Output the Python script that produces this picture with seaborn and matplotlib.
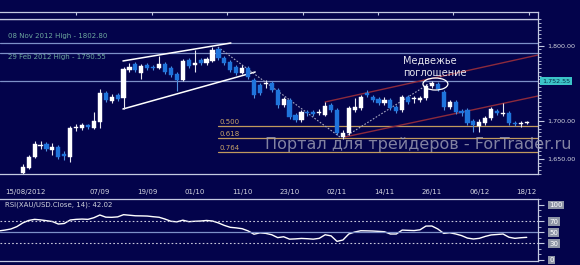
import numpy as np
import pandas as pd
import matplotlib
matplotlib.use("Agg")
import matplotlib.pyplot as plt
import seaborn as sns
from matplotlib.patches import Ellipse
from matplotlib.ticker import MultipleLocator, FixedLocator

# ---------------- data (trading-day index, 0 = 15/08/2012) ----------------
day_index = list(range(3, 89))
opens = [1631.1, 1637.7, 1652.3, 1666.9, 1669.5, 1661.6, 1665.6, 1656.3, 1652.3, 1690.7,
         1690.7, 1694.7, 1690.7, 1698.7, 1737.1, 1726.5, 1734.4, 1730.5, 1767.5, 1775.5,
         1763.6, 1774.2, 1771.5, 1770.2, 1775.5, 1770.2, 1762.3, 1754.3, 1780.8, 1774.2,
         1780.8, 1776.8, 1779.5, 1795.4, 1783.4, 1778.1, 1771.5, 1763.6, 1770.2, 1754.3,
         1747.7, 1749.0, 1750.3, 1741.1, 1721.2, 1727.8, 1707.9, 1701.3, 1711.9, 1711.9,
         1710.6, 1707.9, 1721.2, 1714.6, 1678.8, 1684.1, 1714.6, 1717.2, 1737.1, 1731.8,
         1729.1, 1723.8, 1727.8, 1718.5, 1714.6, 1731.8, 1729.1, 1727.8, 1730.5, 1746.4,
         1749.0, 1738.4, 1718.5, 1725.2, 1713.2, 1714.6, 1700.0, 1693.4, 1697.4, 1704.0,
         1713.2, 1709.3, 1710.6, 1697.4, 1696.0, 1697.4]
highs = [1643.0, 1655.0, 1673.5, 1673.5, 1672.2, 1670.9, 1668.2, 1660.3, 1693.4, 1696.0,
         1697.4, 1696.0, 1711.9, 1742.4, 1739.7, 1735.8, 1737.1, 1771.5, 1776.8, 1778.1,
         1775.5, 1776.8, 1774.2, 1786.1, 1778.1, 1772.8, 1764.9, 1782.1, 1783.4, 1794.0,
         1783.4, 1784.8, 1798.0, 1798.0, 1786.1, 1780.8, 1774.2, 1774.2, 1772.8, 1757.0,
         1750.3, 1754.3, 1753.0, 1743.7, 1731.8, 1730.5, 1710.6, 1714.6, 1714.6, 1714.6,
         1715.9, 1725.2, 1723.8, 1717.2, 1688.1, 1719.9, 1730.5, 1734.4, 1741.1, 1734.4,
         1731.8, 1731.8, 1730.5, 1721.2, 1734.4, 1734.4, 1733.1, 1733.1, 1749.0, 1753.0,
         1751.7, 1741.1, 1727.8, 1727.8, 1715.9, 1717.2, 1702.6, 1702.6, 1706.6, 1718.5,
         1715.9, 1723.8, 1713.2, 1700.0, 1700.0, 1700.0]
lows = [1628.5, 1636.4, 1651.0, 1662.9, 1660.3, 1655.0, 1649.7, 1648.3, 1645.7, 1686.8,
        1688.1, 1689.4, 1689.4, 1690.7, 1725.2, 1723.8, 1726.5, 1715.9, 1764.9, 1764.9,
        1755.6, 1767.5, 1767.5, 1768.9, 1762.3, 1758.3, 1739.7, 1753.0, 1770.2, 1764.9,
        1774.2, 1774.2, 1778.1, 1780.8, 1774.2, 1764.9, 1760.9, 1762.3, 1755.6, 1730.5,
        1734.4, 1743.7, 1738.4, 1717.2, 1718.5, 1702.6, 1698.7, 1698.7, 1706.6, 1706.6,
        1707.9, 1706.6, 1711.9, 1681.5, 1676.2, 1681.5, 1711.9, 1714.6, 1731.8, 1725.2,
        1721.2, 1721.2, 1714.6, 1710.6, 1711.9, 1722.5, 1723.8, 1725.2, 1727.8, 1743.7,
        1739.7, 1714.6, 1715.9, 1709.3, 1706.6, 1694.7, 1685.4, 1685.4, 1694.7, 1701.3,
        1707.9, 1706.6, 1694.7, 1693.4, 1692.1, 1696.0]
closes = [1639.1, 1652.3, 1669.5, 1668.2, 1662.9, 1665.6, 1652.3, 1653.6, 1690.7, 1692.1,
          1694.7, 1692.1, 1700.0, 1737.1, 1727.8, 1731.8, 1729.1, 1768.9, 1771.5, 1767.5,
          1772.8, 1770.2, 1770.2, 1775.5, 1764.9, 1760.9, 1754.3, 1779.5, 1772.8, 1776.8,
          1776.8, 1782.1, 1794.0, 1783.4, 1776.8, 1767.5, 1763.6, 1770.2, 1758.3, 1734.4,
          1737.1, 1750.3, 1741.1, 1721.2, 1729.1, 1705.3, 1701.3, 1711.9, 1710.6, 1709.3,
          1711.9, 1719.9, 1714.6, 1684.1, 1684.1, 1717.2, 1718.5, 1731.8, 1734.4, 1727.8,
          1723.8, 1727.8, 1717.2, 1713.2, 1731.8, 1725.2, 1730.5, 1730.5, 1746.4, 1750.3,
          1742.4, 1718.5, 1725.2, 1711.9, 1710.6, 1697.4, 1694.7, 1698.7, 1704.0, 1715.9,
          1710.6, 1710.6, 1697.4, 1696.0, 1697.4, 1698.7]

rsi_index = list(range(-1, 89))
rsi_values = [52, 53.5, 55.5, 59.8, 66.5, 71, 73, 72, 70.6, 69,
              64.5, 65.5, 71.8, 73, 73.5, 73, 76, 80.9, 77, 76.7,
              77.5, 81.5, 80.5, 79.5, 79.3, 79, 77.8, 76.8, 73.5, 69.5,
              68.5, 71.5, 68.8, 69.5, 70, 71, 70, 66.5, 62, 58.5,
              57.5, 56, 52, 46, 48.5, 47.5, 45, 39.8, 41.4, 37,
              37.5, 38.3, 37.8, 37, 38.5, 45, 43, 33, 35.5, 46.5,
              50, 52.3, 52.1, 51.8, 51.2, 50.5, 46.4, 46.4, 53.5, 53,
              52.6, 54, 60.8, 60.9, 55.5, 47.5, 48.7, 46.5, 43.5, 39,
              37.3, 38.5, 42, 44.7, 45.5, 46.4, 40.5, 38.5, 39.6, 40.3]

date_tick_index = [0, 8, 16, 24, 32, 40, 48, 56, 64, 72, 80, 88]
date_labels = ["15/08/2012", "", "07/09", "19/09", "01/10", "11/10", "23/10",
               "02/11", "14/11", "26/11", "06/12", "18/12"]

high_levels = [1802.80, 1790.55]
high_texts = ["08 Nov 2012 High - 1802.80", "29 Feb 2012 High - 1790.55"]
last_level = 1752.55
fib_levels = [1693.4, 1677.1, 1658.9]
fib_labels = ["0.500", "0.618", "0.764"]
price_ticks = [1650, 1700, 1750, 1800]
price_labels = ["1,650.00", "1,700.00", "", "1,800.00"]
rsi_ticks = [0, 30, 50, 70, 100]

# trend lines: (day index, price) end points
wedge_upper = ([19.9, 38.1], [1779.5, 1803.3])
wedge_lower = ([19.9, 42.2], [1715.9, 1764.9])
dotted_down = ([35.9, 56.5], [1798.0, 1678.8])
dotted_up = ([57.3, 71.7], [1678.8, 1750.3])
red_upper = ([54.0, 89.9], [1725.2, 1787.4])
red_lower = ([57.3, 89.9], [1678.8, 1733.1])

# ---------------- style ----------------
BG = "#03034b"
FRAME = "#c4cae2"
WHITE = "#ffffff"
BLUE = "#1f74dc"
sns.set_theme(style="dark")
plt.rcParams["font.family"] = ["DejaVu Sans"]

W, H = 580, 265
fig = plt.figure(figsize=(5.8, 2.65), dpi=100, facecolor=BG)

def frac(x0, y_top, w, h):
    return [x0 / W, (H - y_top - h) / H, w / W, h / H]

ax = fig.add_axes(frac(0, 19, 538, 155))
ax2 = fig.add_axes(frac(0, 199, 538, 62))
axt = fig.add_axes(frac(0, 12, 538, 7))

for a in (ax, ax2, axt):
    a.set_facecolor(BG)
    a.grid(False)
    for s in a.spines.values():
        s.set_color(FRAME)
        s.set_linewidth(0.9)
    a.spines["left"].set_visible(False)

XL = (-0.84, 89.9)

# ---------------- main price panel ----------------
df = pd.DataFrame({"i": day_index, "o": opens, "h": highs, "l": lows, "c": closes})
df["up"] = df["c"] >= df["o"]
for up, col, wick in ((True, WHITE, "#e8e8f0"), (False, BLUE, "#4f8fe0")):
    d = df[df["up"] == up]
    ax.vlines(d["i"], d["l"], d["h"], color=wick, lw=0.8, zorder=3)
    bottom = np.minimum(d["o"], d["c"])
    height = np.maximum(np.abs(d["c"] - d["o"]), 1.1)
    ax.bar(d["i"], height, bottom=bottom, width=0.7, color=col, edgecolor=col,
           lw=0.3, zorder=4)

for lv in high_levels + [last_level]:
    ax.axhline(lv, color="#7d90c8", lw=0.9, zorder=1)
ax.text(0.5, 1812.6, high_texts[0], color="#6ea89e", fontsize=5, va="center")
ax.text(0.5, 1784.8, high_texts[1], color="#6ea89e", fontsize=5, va="center")

for lv, lb in zip(fib_levels, fib_labels):
    ax.plot([36.0, XL[1]], [lv, lv], color="#c09a5e", lw=0.9, zorder=2)
    ax.text(36.1, lv + 1.5, lb, color="#c8a468", fontsize=5, va="bottom")

sns.lineplot(x=wedge_upper[0], y=wedge_upper[1], ax=ax, color="white", lw=1.1)
sns.lineplot(x=wedge_lower[0], y=wedge_lower[1], ax=ax, color="white", lw=1.1)
ax.plot(*dotted_down, color="#a8a8c0", lw=0.8, ls=(0, (1.5, 1.5)), zorder=2)
ax.plot(*dotted_up, color="#a8a8c0", lw=0.8, ls=(0, (1.5, 1.5)), zorder=2)
ax.plot(*red_upper, color="#8c2a3c", lw=1.0, zorder=2)
ax.plot(*red_lower, color="#8c2a3c", lw=1.0, zorder=2)

ax.add_patch(Ellipse((72.6, 1749.0), 4.2, 15.9, fill=False, ec="white", lw=0.9, zorder=5))
ax.text(67.1, 1772.2, "Медвежье\nпоглощение", color="#e6e6ee", fontsize=7,
        va="center", ha="left", linespacing=1.25)

ax.set_xlim(*XL)
ax.set_ylim(1629.8, 1835.1)
ax.yaxis.tick_right()
ax.yaxis.set_major_locator(FixedLocator(price_ticks))
ax.set_yticklabels(price_labels)
ax.yaxis.set_minor_locator(MultipleLocator(5))
ax.tick_params(axis="y", which="major", direction="out", length=4, width=0.8,
               colors=FRAME, labelcolor="#d4d6e0", labelsize=4.6, pad=3, right=True, left=False)
ax.tick_params(axis="y", which="minor", direction="out", length=2, width=0.6,
               colors=FRAME, right=True, left=False)
ax.set_xticks(date_tick_index)
ax.set_xticklabels(date_labels)
ax.xaxis.set_minor_locator(MultipleLocator(1))
ax.tick_params(axis="x", which="major", direction="out", length=5, width=0.8,
               colors=FRAME, labelcolor="#d4d6e0", labelsize=5, pad=5.5)
ax.tick_params(axis="x", which="minor", direction="out", length=2.5, width=0.6,
               colors=FRAME)
ax.get_xticklabels()[0].set_ha("left")
ax.set_xlabel("")
ax.set_ylabel("")

ax.text(1.0075, 1752.55, "1,752.55", transform=ax.get_yaxis_transform(),
        color="#072c48", fontsize=4.6, va="center", ha="left", zorder=10,
        bbox=dict(boxstyle="square,pad=0.25", fc="#3cc4c8", ec="none"), clip_on=False)

fig.text(265 / W, (H - 145) / H, "Портал для трейдеров - ForTrader.ru",
         color="#a2a2b8", alpha=0.8, fontsize=11.5, ha="left", va="center")

# ---------------- RSI panel ----------------
sns.lineplot(x=rsi_index, y=rsi_values, ax=ax2, color="white", lw=1.0)
ax2.axhline(70, color="#c8c8dc", lw=0.8, ls=(0, (1.5, 2)))
ax2.axhline(30, color="#c8c8dc", lw=0.8, ls=(0, (1.5, 2)))
ax2.axhline(50, color="#7d90c8", lw=0.9)
ax2.set_xlim(*XL)
ax2.set_ylim(-2.7, 110)
ax2.set_xticks([])
ax2.yaxis.tick_right()
ax2.yaxis.set_major_locator(FixedLocator(rsi_ticks))
ax2.yaxis.set_minor_locator(MultipleLocator(10))
ax2.tick_params(axis="y", which="major", direction="out", length=4, width=0.8,
                colors=FRAME, labelcolor="white", labelsize=5, pad=4, right=True, left=False)
ax2.tick_params(axis="y", which="minor", direction="out", length=2, width=0.6,
                colors=FRAME, right=True, left=False)
for lab in ax2.get_yticklabels():
    lab.set_bbox(dict(boxstyle="square,pad=0.2", fc="#8e94a6", ec="none"))
ax2.set_xlabel("")
ax2.set_ylabel("")
ax2.text(0.009, 0.9, "RSI(XAU/USD.Close, 14): 42.02", transform=ax2.transAxes,
         color="#cfd2dc", fontsize=5, va="center", ha="left")

# ---------------- top strip ----------------
axt.set_xlim(0, 538)
axt.set_ylim(0, 1)
axt.set_xticks([76, 152, 227, 303, 378, 453, 529])
axt.set_xticklabels([])
axt.set_yticks([])
axt.tick_params(axis="x", direction="in", length=2, width=0.8, colors=FRAME,
                top=True, bottom=False)

fig.savefig("out.png", dpi=100, facecolor=BG)
